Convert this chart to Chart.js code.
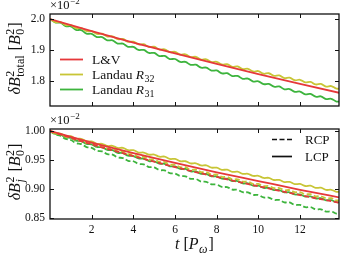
<!DOCTYPE html>
<html>
<head>
<meta charset="utf-8">
<script src="https://cdn.jsdelivr.net/npm/chart.js@4.4.1/dist/chart.umd.min.js"></script>
<style>
  html, body { margin: 0; padding: 0; background: #fff; }
  #wrap { position: relative; width: 341px; height: 255px; }
  #wrap canvas { position: absolute; left: 0; }
</style>
</head>
<body>
<div id="wrap">
  <canvas id="chartPol" width="341" height="145" style="top:110px"></canvas>
  <canvas id="chartTotal" width="341" height="120" style="top:0"></canvas>
</div>
<script>
// time axis (in P_omega)
const tFine = [0, 0.25, 0.5, 0.75, 1, 1.25, 1.5, 1.75, 2, 2.25, 2.5, 2.75, 3, 3.25, 3.5, 3.75,
  4, 4.25, 4.5, 4.75, 5, 5.25, 5.5, 5.75, 6, 6.25, 6.5, 6.75, 7, 7.25, 7.5, 7.75,
  8, 8.25, 8.5, 8.75, 9, 9.25, 9.5, 9.75, 10, 10.25, 10.5, 10.75, 11, 11.25, 11.5, 11.75,
  12, 12.25, 12.5, 12.75, 13, 13.25, 13.5, 13.75, 14];
const tCoarse = [0, 2, 4, 6, 8, 10, 12, 14];

const xTicks = [2, 4, 6, 8, 10, 12];
const totalTicks = [1.8, 1.9, 2.0];
const polTicks = [0.85, 0.90, 0.95, 1.00];

// top panel: total energy (x1e-2)
const totalLV = [2.000, 1.961, 1.924, 1.889, 1.855, 1.822, 1.791, 1.760];
const totalR32 = [2.000, 1.990, 1.990, 1.980, 1.980, 1.9703, 1.9705, 1.9608, 1.961, 1.9518, 1.9525, 1.9433,
  1.944, 1.9348, 1.9355, 1.9263, 1.927, 1.9179, 1.9187, 1.9096, 1.9105, 1.9014, 1.9022, 1.8931,
  1.894, 1.885, 1.886, 1.877, 1.878, 1.869, 1.870, 1.861, 1.862, 1.8533, 1.8545, 1.8458,
  1.847, 1.8383, 1.8395, 1.8308, 1.832, 1.8235, 1.825, 1.8165, 1.818, 1.8095, 1.811, 1.8025,
  1.804, 1.7956, 1.7972, 1.7889, 1.7905, 1.7821, 1.7837, 1.7754, 1.777];
const totalR31 = [2.000, 1.989, 1.988, 1.977, 1.976, 1.965, 1.964, 1.953, 1.952, 1.9418, 1.9415, 1.9313,
  1.931, 1.9208, 1.9205, 1.9103, 1.910, 1.9001, 1.9002, 1.8904, 1.8905, 1.8806, 1.8807, 1.8709,
  1.871, 1.8614, 1.8617, 1.8521, 1.8525, 1.8429, 1.8432, 1.8336, 1.834, 1.8246, 1.8252, 1.8159,
  1.8165, 1.8071, 1.8077, 1.7984, 1.799, 1.7899, 1.7907, 1.7816, 1.7825, 1.7734, 1.7742, 1.7651,
  1.766, 1.7571, 1.7582, 1.7494, 1.7505, 1.7416, 1.7427, 1.7339, 1.735];

// bottom panel: per polarisation (x1e-2)
const lcpLV = [1.000, 0.980, 0.962, 0.945, 0.929, 0.914, 0.899, 0.885];
const rcpLV = [1.000, 0.977, 0.957, 0.938, 0.921, 0.905, 0.890, 0.876];
const lcpR32 = [1.000, 0.9958, 0.9955, 0.9913, 0.991, 0.9868, 0.9865, 0.9823, 0.982, 0.978, 0.978, 0.9743,
  0.9745, 0.9708, 0.971, 0.967, 0.967, 0.963, 0.963, 0.9593, 0.9595, 0.9558, 0.956, 0.952,
  0.952, 0.948, 0.948, 0.9443, 0.9445, 0.9408, 0.941, 0.937, 0.937, 0.9333, 0.9335, 0.9298,
  0.930, 0.9263, 0.9265, 0.9228, 0.923, 0.9193, 0.9195, 0.9158, 0.916, 0.9123, 0.9125, 0.9088,
  0.909, 0.9055, 0.906, 0.9023, 0.9025, 0.8988, 0.899, 0.8955, 0.896];
const rcpR32 = [1.000, 0.9953, 0.9945, 0.9898, 0.989, 0.9845, 0.984, 0.9795, 0.979, 0.9746, 0.9742, 0.9699,
  0.9695, 0.9651, 0.9647, 0.9604, 0.960, 0.9558, 0.9555, 0.9513, 0.951, 0.9468, 0.9465, 0.9423,
  0.942, 0.9379, 0.9377, 0.9336, 0.9335, 0.9294, 0.9292, 0.9251, 0.925, 0.921, 0.921, 0.917,
  0.917, 0.913, 0.913, 0.909, 0.909, 0.9053, 0.9055, 0.9018, 0.902, 0.8983, 0.8985, 0.8948,
  0.895, 0.8913, 0.8915, 0.8878, 0.888, 0.8843, 0.8845, 0.8808, 0.881];
const lcpR31 = [1.000, 0.995, 0.994, 0.989, 0.988, 0.9833, 0.9825, 0.9778, 0.977, 0.9725, 0.972, 0.9675,
  0.967, 0.9625, 0.962, 0.9575, 0.957, 0.9528, 0.9525, 0.9483, 0.948, 0.9438, 0.9435, 0.9393,
  0.939, 0.9349, 0.9347, 0.9306, 0.9305, 0.9264, 0.9262, 0.9221, 0.922, 0.918, 0.918, 0.914,
  0.914, 0.910, 0.910, 0.906, 0.906, 0.9021, 0.9022, 0.8984, 0.8985, 0.8946, 0.8947, 0.8909,
  0.891, 0.8874, 0.8877, 0.8841, 0.8845, 0.8809, 0.8812, 0.8776, 0.878];
const rcpR31 = [1.000, 0.994, 0.992, 0.9863, 0.9845, 0.979, 0.9775, 0.9723, 0.971, 0.966, 0.965, 0.9603,
  0.9595, 0.9545, 0.9535, 0.9488, 0.948, 0.9434, 0.9427, 0.9381, 0.9375, 0.9329, 0.9322, 0.9276,
  0.927, 0.9226, 0.9222, 0.9179, 0.9175, 0.9131, 0.9127, 0.9084, 0.908, 0.9038, 0.9035, 0.8993,
  0.899, 0.8948, 0.8945, 0.8903, 0.890, 0.8859, 0.8857, 0.8816, 0.8815, 0.8774, 0.8772, 0.8731,
  0.873, 0.8691, 0.8692, 0.8654, 0.8655, 0.8616, 0.8617, 0.8579, 0.858];

const RED = '#e6383a';
const OLIVE = '#c8c536';
const GREEN = '#3db43d';
const INK = '#111';
const SERIF = '"Liberation Serif", "DejaVu Serif", serif';
const DASH = [5, 2.5];
const X_MAX = 13.87;

const pts = (ts, vs) => ts.map((t, i) => ({ x: t, y: vs[i] }));

// text with italic parts, super- and subscripts; returns the width
function richText(ctx, parts, size, x, y, draw) {
  const small = Math.round(size * 0.72);
  let cx = x;
  for (const p of parts) {
    if (p.t !== undefined) {
      ctx.font = (p.it ? 'italic ' : '') + size + 'px ' + SERIF;
      if (draw) ctx.fillText(p.t, cx, y);
      cx += ctx.measureText(p.t).width;
    } else {
      let w = 0;
      if (p.sup) {
        ctx.font = small + 'px ' + SERIF;
        if (draw) ctx.fillText(p.sup, cx + 0.5, y - size * 0.4);
        w = Math.max(w, ctx.measureText(p.sup).width);
      }
      if (p.sub) {
        ctx.font = (p.subIt ? 'italic ' : '') + small + 'px ' + SERIF;
        if (draw) ctx.fillText(p.sub, cx + 0.5, y + size * 0.24);
        w = Math.max(w, ctx.measureText(p.sub).width);
      }
      cx += w + 1.5;
    }
  }
  return cx - x;
}

function yTitle(ctx, parts, size, baseX, cy) {
  ctx.save();
  ctx.translate(baseX, cy);
  ctx.rotate(-Math.PI / 2);
  const w = richText(ctx, parts, size, 0, 0, false);
  richText(ctx, parts, size, -w / 2, 0, true);
  ctx.restore();
}

// matplotlib-like frame with inward ticks on all four sides
const frameTicks = {
  id: 'frameTicks',
  afterDatasetsDraw(chart) {
    const { ctx, chartArea: a, scales: { x, y } } = chart;
    ctx.save();
    ctx.strokeStyle = INK;
    ctx.lineWidth = 1;
    ctx.beginPath();
    x.ticks.forEach(t => {
      const px = Math.round(x.getPixelForValue(t.value)) + 0.5;
      ctx.moveTo(px, a.bottom); ctx.lineTo(px, a.bottom - 4);
      ctx.moveTo(px, a.top); ctx.lineTo(px, a.top + 4);
    });
    y.ticks.forEach(t => {
      const py = Math.round(y.getPixelForValue(t.value)) + 0.5;
      ctx.moveTo(a.left, py); ctx.lineTo(a.left + 4, py);
      ctx.moveTo(a.right, py); ctx.lineTo(a.right - 4, py);
    });
    ctx.stroke();
    ctx.lineWidth = 1.3;
    ctx.strokeRect(a.left, a.top, a.right - a.left, a.bottom - a.top);
    ctx.restore();
  },
};

function options(o) {
  const tickFont = { family: SERIF, size: 11.5 };
  return {
    responsive: false,
    animation: false,
    layout: { padding: { top: o.padTop, right: 2, left: 0, bottom: 0 } },
    plugins: { legend: { display: false }, tooltip: { enabled: false } },
    elements: { point: { radius: 0 }, line: { borderWidth: 1.8 } },
    scales: {
      x: {
        type: 'linear', min: 0, max: X_MAX,
        grid: { display: false, drawTicks: false },
        border: { display: false },
        afterBuildTicks: s => { s.ticks = xTicks.map(v => ({ value: v })); },
        afterFit: s => { s.height = o.xHeight; },
        ticks: { display: o.showX, padding: 4, color: INK, font: tickFont, maxRotation: 0, autoSkip: false },
      },
      y: {
        type: 'linear', min: o.yMin, max: o.yMax,
        grid: { display: false, drawTicks: false },
        border: { display: false },
        afterBuildTicks: s => { s.ticks = o.yTicks.map(v => ({ value: v })); },
        afterFit: s => { s.width = 50; },
        ticks: { padding: 5, color: INK, font: tickFont, autoSkip: false, callback: v => v.toFixed(o.dec) },
      },
    },
  };
}

const offsetParts = [{ t: '×10' }, { sup: '−2' }];

// top panel
new Chart(document.getElementById('chartTotal'), {
  type: 'line',
  data: {
    datasets: [
      { label: 'L&V', data: pts(tCoarse, totalLV), borderColor: RED, cubicInterpolationMode: 'monotone' },
      { label: 'R32', data: pts(tFine, totalR32), borderColor: OLIVE, tension: 0.4 },
      { label: 'R31', data: pts(tFine, totalR31), borderColor: GREEN, tension: 0.4 },
    ],
  },
  options: options({ padTop: 14, xHeight: 14, showX: false, yMin: 1.7194, yMax: 2.0161, yTicks: totalTicks, dec: 1 }),
  plugins: [frameTicks, {
    id: 'totalText',
    afterDraw(chart) {
      const { ctx, chartArea: a } = chart;
      ctx.save();
      ctx.fillStyle = INK;
      ctx.textBaseline = 'alphabetic';
      ctx.textAlign = 'left';
      richText(ctx, offsetParts, 12.5, a.left, a.top - 5, true);
      yTitle(ctx, [{ t: 'δB', it: true }, { sup: '2', sub: 'total' }, { t: ' [' }, { t: 'B', it: true }, { sup: '2', sub: '0' }, { t: ']' }],
        16, 20, (a.top + a.bottom) / 2 - 1.5);
      // legend
      const rows = [
        [[{ t: 'L&V' }], RED],
        [[{ t: 'Landau ' }, { t: 'R', it: true }, { sub: '32' }], OLIVE],
        [[{ t: 'Landau ' }, { t: 'R', it: true }, { sub: '31' }], GREEN],
      ];
      rows.forEach(([parts, color], i) => {
        const yy = a.top + 45.5 + i * 15;
        ctx.strokeStyle = color;
        ctx.lineWidth = 1.8;
        ctx.beginPath();
        ctx.moveTo(a.left + 10, yy);
        ctx.lineTo(a.left + 33, yy);
        ctx.stroke();
        ctx.fillStyle = INK;
        richText(ctx, parts, 13.5, a.left + 42, yy + 4.5, true);
      });
      ctx.restore();
    },
  }],
});

// bottom panel
const dashed = { borderDash: DASH };
new Chart(document.getElementById('chartPol'), {
  type: 'line',
  data: {
    datasets: [
      { label: 'L&V LCP', data: pts(tCoarse, lcpLV), borderColor: RED, cubicInterpolationMode: 'monotone' },
      { label: 'L&V RCP', data: pts(tCoarse, rcpLV), borderColor: RED, cubicInterpolationMode: 'monotone', ...dashed },
      { label: 'R32 LCP', data: pts(tFine, lcpR32), borderColor: OLIVE, tension: 0.4 },
      { label: 'R32 RCP', data: pts(tFine, rcpR32), borderColor: OLIVE, tension: 0.4, ...dashed },
      { label: 'R31 LCP', data: pts(tFine, lcpR31), borderColor: GREEN, tension: 0.4 },
      { label: 'R31 RCP', data: pts(tFine, rcpR31), borderColor: GREEN, tension: 0.4, ...dashed },
    ],
  },
  options: options({ padTop: 19, xHeight: 36, showX: true, yMin: 0.8488, yMax: 1.0034, yTicks: polTicks, dec: 2 }),
  plugins: [frameTicks, {
    id: 'polText',
    afterDraw(chart) {
      const { ctx, chartArea: a } = chart;
      ctx.save();
      ctx.fillStyle = INK;
      ctx.textBaseline = 'alphabetic';
      ctx.textAlign = 'left';
      richText(ctx, offsetParts, 12.5, a.left, a.top - 5, true);
      yTitle(ctx, [{ t: 'δB', it: true }, { sup: '2', sub: 'j', subIt: true }, { t: ' [' }, { t: 'B', it: true }, { sup: '2', sub: '0' }, { t: ']' }],
        16, 20, (a.top + a.bottom) / 2 - 2);
      // x title
      const xParts = [{ t: 't', it: true }, { t: ' [' }, { t: 'P', it: true }, { sub: 'ω', subIt: true }, { t: ']' }];
      const w = richText(ctx, xParts, 16, 0, 0, false);
      richText(ctx, xParts, 16, (a.left + a.right) / 2 - w / 2, a.bottom + 30, true);
      // legend
      const rows = [['RCP', DASH], ['LCP', []]];
      rows.forEach(([label, dash], i) => {
        const yy = a.top + 10.5 + i * 17;
        ctx.strokeStyle = INK;
        ctx.lineWidth = 1.7;
        ctx.setLineDash(dash);
        ctx.beginPath();
        ctx.moveTo(a.right - 67, yy);
        ctx.lineTo(a.right - 47, yy);
        ctx.stroke();
        ctx.setLineDash([]);
        richText(ctx, [{ t: label }], 13, a.right - 34, yy + 4.5, true);
      });
      ctx.restore();
    },
  }],
});
</script>
</body>
</html>
